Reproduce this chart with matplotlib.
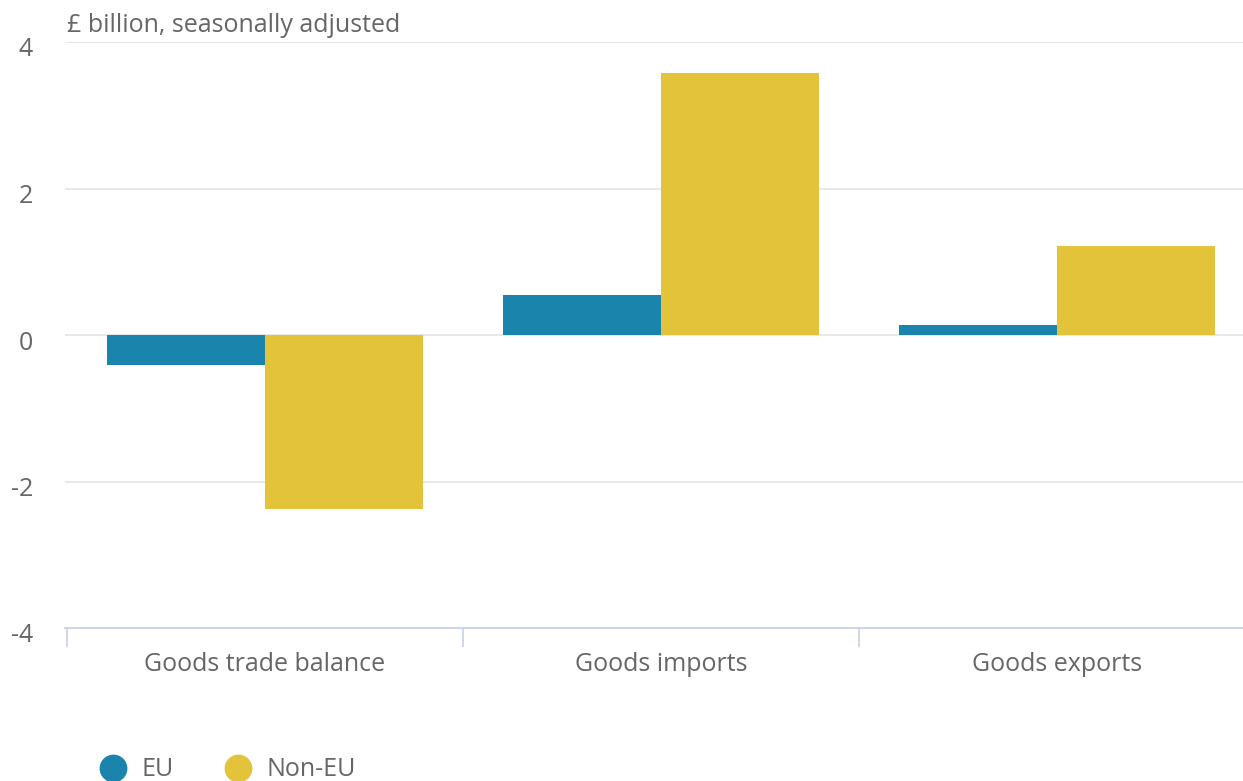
import numpy as np
import matplotlib.pyplot as plt
import matplotlib.transforms as mtransforms
from matplotlib.lines import Line2D

plt.rcParams['font.family'] = ['Open Sans', 'DejaVu Sans']

categories = ['Goods trade balance', 'Goods imports', 'Goods exports']
eu = [-0.41, 0.54, 0.14]
non_eu = [-2.38, 3.58, 1.22]
yticks = [-4, -2, 0, 2, 4]

c_eu = '#1b84ac'
c_neu = '#e3c33a'
grey = '#666666'
fs = 18

fig = plt.figure(figsize=(12.43, 7.81), dpi=100)
ax = fig.add_axes([65/1243, 1-628/781, 1-65/1243, (628-42)/781])

x = np.arange(len(categories))
w = 0.4
ax.bar(x - w/2, eu, w, color=c_eu, zorder=3)
ax.bar(x + w/2, non_eu, w, color=c_neu, zorder=3)

ax.set_ylim(-4, 4)
ax.set_xlim(-0.505, 2.47)
ax.set_yticks(yticks)
ax.set_yticklabels([str(v) for v in yticks])
ax.tick_params(axis='y', length=0, pad=23, labelsize=fs, labelcolor=grey)
shift = mtransforms.ScaledTranslation(0, -5/100, fig.dpi_scale_trans)
for lab in ax.get_yticklabels():
    lab.set_horizontalalignment('right')
    lab.set_transform(lab.get_transform() + shift)
ax.grid(axis='y', color='#e6e6e6', linewidth=1.3, zorder=0)

ax.set_xticks(x)
ax.set_xticklabels(categories)
ax.tick_params(axis='x', length=0, pad=17, labelsize=fs, labelcolor=grey)
# category boundary ticks
ax.set_xticks([-0.5, 0.5, 1.5], minor=True)
ax.tick_params(axis='x', which='minor', length=14, width=1.3, color='#ccd6eb')

for s in ['top', 'right', 'left']:
    ax.spines[s].set_visible(False)
ax.spines['bottom'].set_color('#ccd6eb')
ax.spines['bottom'].set_linewidth(1.5)
ax.spines['bottom'].set_zorder(4)

fig.text(67/1243, 1-26/781, '£ billion, seasonally adjusted', fontsize=fs,
         color=grey, va='center', ha='left')

handles = [Line2D([], [], marker='o', linestyle='none', markersize=19,
                  color=c_eu, label='EU'),
           Line2D([], [], marker='o', linestyle='none', markersize=19,
                  color=c_neu, label='Non-EU')]
leg = fig.legend(handles=handles, loc='center left', ncol=2,
                 bbox_to_anchor=(88/1243, 1-770/781), frameon=False,
                 fontsize=fs, handletextpad=0.55, columnspacing=1.95,
                 borderaxespad=0, handlelength=1.2)
for t in leg.get_texts():
    t.set_color(grey)

fig.savefig('out.png', dpi=100)
